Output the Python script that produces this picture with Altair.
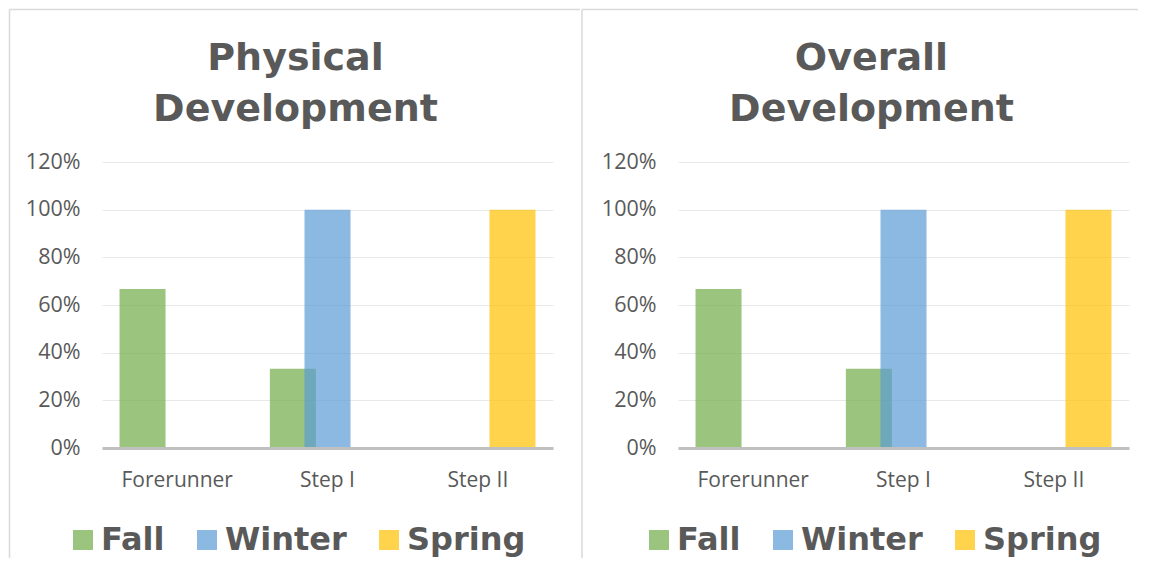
import altair as alt
import pandas as pd

# ---- data ----
categories = ["Forerunner", "Step I", "Step II"]
seasons = ["Fall", "Winter", "Spring"]
physical_fall = [0.667, 0.333, 0.0]
physical_winter = [0.0, 1.0, 0.0]
physical_spring = [0.0, 0.0, 1.0]
overall_fall = [0.667, 0.333, 0.0]
overall_winter = [0.0, 1.0, 0.0]
overall_spring = [0.0, 0.0, 1.0]
season_colors = ["#70AD47", "#5B9BD5", "#FFC000"]
y_ticks = [0, 0.2, 0.4, 0.6, 0.8, 1.0, 1.2]
physical_title = ["Physical", "Development"]
overall_title = ["Overall", "Development"]

TEXT = "#595959"
FRAME = "#d9d9d9"
W, H = 451, 286


def make_df(fall, winter, spring):
    rows = []
    for s, vals in zip(seasons, [fall, winter, spring]):
        for c, v in zip(categories, vals):
            rows.append({"category": c, "season": s, "value": v})
    return pd.DataFrame(rows)


def panel(df, title_lines, left_x, top_x2):
    bars = alt.Chart(df).mark_bar(width=46, opacity=0.7).encode(
        x=alt.X(
            "category:N",
            sort=categories,
            scale=alt.Scale(paddingInner=0, paddingOuter=0),
            axis=alt.Axis(
                title=None, labelAngle=0, ticks=False, grid=False,
                domainColor="#c0c0c0", domainWidth=3, zindex=1,
                labelFont="Open Sans", labelFontSize=21, labelColor=TEXT,
                labelPadding=21,
            ),
        ),
        xOffset=alt.XOffset(
            "season:N",
            sort=seasons,
            scale=alt.Scale(domain=seasons, paddingInner=0, paddingOuter=0.67),
        ),
        y=alt.Y(
            "value:Q",
            scale=alt.Scale(domain=[0, 1.2], nice=False),
            axis=alt.Axis(
                values=y_ticks, format=".0%", title=None, domain=False,
                ticks=False, gridColor="#e9e9e9", gridWidth=1,
                labelFont="Open Sans", labelFontSize=21.5, labelColor=TEXT,
                labelPadding=22,
            ),
        ),
        color=alt.Color(
            "season:N",
            sort=seasons,
            scale=alt.Scale(domain=seasons, range=season_colors),
            legend=alt.Legend(
                title=None, orient="none", direction="horizontal",
                legendX=-35, legendY=362, padding=0,
                symbolType="square", symbolSize=400, symbolOpacity=0.7,
                symbolStrokeWidth=0,
                labelFont="DejaVu Sans", labelFontWeight="bold",
                labelFontSize=32, labelColor=TEXT, labelOffset=2,
                columnPadding=26,
            ),
        ),
    )

    one = alt.InlineData(values=[{"k": 1}])
    title = alt.Chart(one).mark_text(
        text=title_lines, font="DejaVu Sans", fontWeight="bold", fontSize=38,
        color=TEXT, align="center", baseline="alphabetic", lineHeight=50.7,
    ).encode(x=alt.value(193.5), y=alt.value(-92))

    frame_top = alt.Chart(one).mark_rule(color=FRAME, strokeWidth=1.5).encode(
        x=alt.value(left_x), x2=alt.value(top_x2), y=alt.value(-152.5)
    )
    frame_left = alt.Chart(one).mark_rule(color=FRAME, strokeWidth=1.5).encode(
        x=alt.value(left_x), y=alt.value(-152.5), y2=alt.value(396)
    )
    return alt.layer(bars, title, frame_top, frame_left).properties(width=W, height=H)


left = panel(make_df(physical_fall, physical_winter, physical_spring), physical_title, -92.5, 478)
right = panel(make_df(overall_fall, overall_winter, overall_spring), overall_title, -96, 460)

chart = (
    alt.hconcat(left, right, spacing=0)
    .resolve_scale(color="independent")
    .properties(padding=0, background="white")
    .configure_view(stroke=None)
)

chart.save("out.html", embed_options={"renderer": "svg", "actions": False})
